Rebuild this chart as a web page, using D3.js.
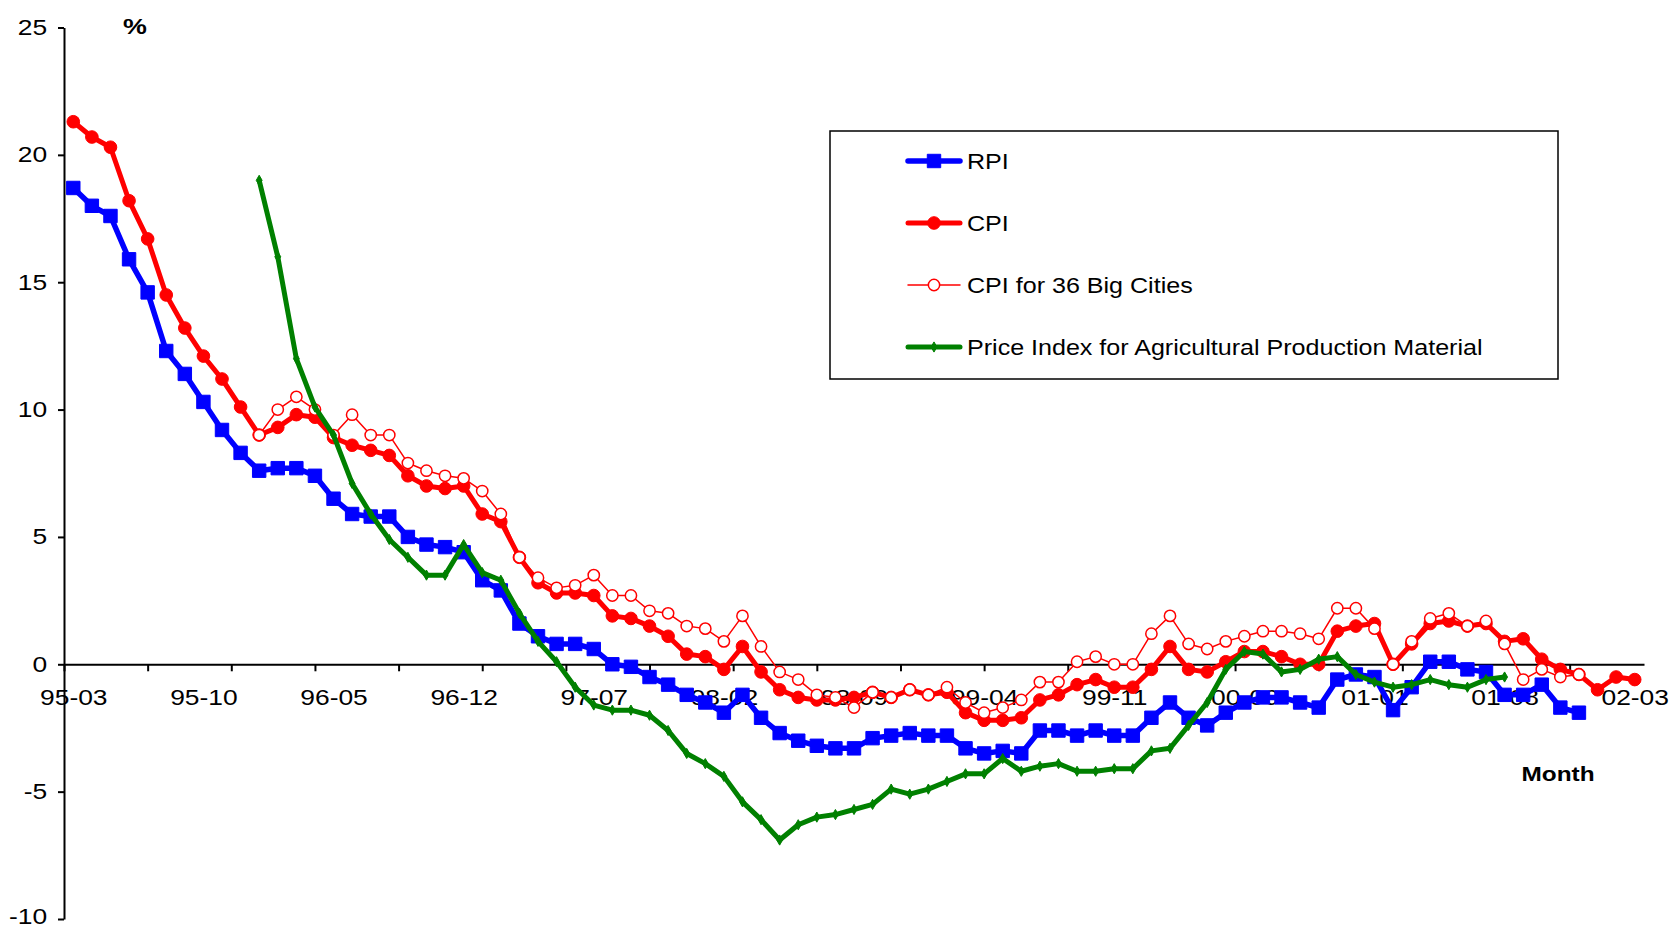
<!DOCTYPE html>
<html>
<head>
<meta charset="utf-8">
<script src="https://cdn.jsdelivr.net/npm/d3@7"></script>
<style>
  body { margin: 0; background: #fff; }
  text { font-family: Arial, "Liberation Sans", sans-serif; fill: #000; }
</style>
</head>
<body>
<div class="chart"></div>
<script>
// Categories: monthly, 95-03 .. 02-03
var months = [];
for (var m = 0; m < 85; m++) {
  var mm = (2 + m) % 12 + 1;
  var yy = 1995 + Math.floor((2 + m) / 12);
  months.push(String(yy).slice(2) + "-" + (mm < 10 ? "0" : "") + mm);
}

var tickLabels = ["95-03", "95-10", "96-05", "96-12", "97-07", "98-02", "98-09",
  "99-04", "99-11", "00-06", "01-01", "01-08", "02-03"];
var yTicks = [25, 20, 15, 10, 5, 0, -5, -10];

// values, % year on year
var rpi = [18.7, 18.0, 17.6, 15.9, 14.6, 12.3, 11.4, 10.3, 9.2, 8.3,
  7.6, 7.7, 7.7, 7.4, 6.5, 5.9, 5.8, 5.8, 5.0, 4.7,
  4.6, 4.4, 3.3, 2.9, 1.6, 1.1, 0.8, 0.8, 0.6, 0.0,
  -0.1, -0.5, -0.8, -1.2, -1.5, -1.9, -1.2, -2.1, -2.7, -3.0,
  -3.2, -3.3, -3.3, -2.9, -2.8, -2.7, -2.8, -2.8, -3.3, -3.5,
  -3.4, -3.5, -2.6, -2.6, -2.8, -2.6, -2.8, -2.8, -2.1, -1.5,
  -2.1, -2.4, -1.9, -1.5, -1.3, -1.3, -1.5, -1.7, -0.6, -0.4,
  -0.5, -1.8, -0.9, 0.1, 0.1, -0.2, -0.3, -1.2, -1.2, -0.8,
  -1.7, -1.9, null, null, null];

var cpi = [21.3, 20.7, 20.3, 18.2, 16.7, 14.5, 13.2, 12.1, 11.2, 10.1,
  9.0, 9.3, 9.8, 9.7, 8.9, 8.6, 8.4, 8.2, 7.4, 7.0,
  6.9, 7.0, 5.9, 5.6, 4.2, 3.2, 2.8, 2.8, 2.7, 1.9,
  1.8, 1.5, 1.1, 0.4, 0.3, -0.2, 0.7, -0.3, -1.0, -1.3,
  -1.4, -1.4, -1.3, -1.1, -1.3, -1.0, -1.2, -1.1, -1.9, -2.2,
  -2.2, -2.1, -1.4, -1.2, -0.8, -0.6, -0.9, -0.9, -0.2, 0.7,
  -0.2, -0.3, 0.1, 0.5, 0.5, 0.3, 0.0, 0.0, 1.3, 1.5,
  1.6, 0.0, 0.8, 1.6, 1.7, 1.5, 1.6, 0.9, 1.0, 0.2,
  -0.2, -0.4, -1.0, -0.5, -0.6];

var cpi36 = [null, null, null, null, null, null, null, null, null, null,
  9.0, 10.0, 10.5, 10.0, 9.0, 9.8, 9.0, 9.0, 7.9, 7.6,
  7.4, 7.3, 6.8, 5.9, 4.2, 3.4, 3.0, 3.1, 3.5, 2.7,
  2.7, 2.1, 2.0, 1.5, 1.4, 0.9, 1.9, 0.7, -0.3, -0.6,
  -1.2, -1.3, -1.7, -1.1, -1.3, -1.0, -1.2, -0.9, -1.5, -1.9,
  -1.7, -1.4, -0.7, -0.7, 0.1, 0.3, 0.0, 0.0, 1.2, 1.9,
  0.8, 0.6, 0.9, 1.1, 1.3, 1.3, 1.2, 1.0, 2.2, 2.2,
  1.4, 0.0, 0.9, 1.8, 2.0, 1.5, 1.7, 0.8, -0.6, -0.2,
  -0.5, -0.4, null, null, null];

var agri = [null, null, null, null, null, null, null, null, null, null,
  19.0, 16.0, 12.0, 10.1, 9.0, 7.1, 5.9, 4.9, 4.2, 3.5,
  3.5, 4.7, 3.6, 3.3, 2.0, 0.9, 0.1, -0.9, -1.6, -1.8,
  -1.8, -2.0, -2.6, -3.5, -3.9, -4.4, -5.4, -6.1, -6.9, -6.3,
  -6.0, -5.9, -5.7, -5.5, -4.9, -5.1, -4.9, -4.6, -4.3, -4.3,
  -3.7, -4.2, -4.0, -3.9, -4.2, -4.2, -4.1, -4.1, -3.4, -3.3,
  -2.4, -1.5, -0.2, 0.5, 0.4, -0.3, -0.2, 0.2, 0.3, -0.4,
  -0.7, -0.9, -0.8, -0.6, -0.8, -0.9, -0.6, -0.5, null, null,
  null, null, null, null, null];

var seriesNames = ["RPI", "CPI", "CPI for 36 Big Cities", "Price Index for Agricultural Production Material"];

// Step 0: set up the chart
var svgWidth = 1673;
var svgHeight = 928;
// the original picture is stretched sideways, so is its text
var stretch = 1.2;

var svg = d3.select(".chart")
  .append("svg")
  .attr("width", svgWidth)
  .attr("height", svgHeight);

var xScale = d3.scalePoint().domain(months).range([64, 1644]).padding(0.5);
var yScale = d3.scaleLinear().domain([-10, 25]).range([919, 27.5]);
var y0 = yScale(0);

// tick marks sit every 4.5 categories, independent from the labels
var tickScale = d3.scaleLinear().domain([0, months.length]).range(xScale.range());

// Y axis
var leftAxis = d3.axisLeft(yScale).tickValues(yTicks).tickSize(6).tickSizeOuter(0).tickPadding(8)
  .tickFormat(function(d) { return String(d); });
var gy = svg.append("g").attr("transform", "translate(64,0)").call(leftAxis);
gy.selectAll("text").style("font-size", "22px").attr("transform", "scale(" + stretch + ",1)");
// bottom label sits right on the picture's edge, lift it a hair
gy.selectAll("text").filter(function(d) { return d === -10; }).attr("dy", "0.2em");

// X axis (labels + line) at zero
var bottomAxis = d3.axisBottom(xScale).tickValues(tickLabels).tickSize(0).tickSizeOuter(0).tickPadding(25);
var gx = svg.append("g").attr("transform", "translate(0," + y0 + ")").call(bottomAxis);
gx.selectAll("text").style("font-size", "22px").attr("transform", "scale(" + stretch + ",1)");

var tickAxis = d3.axisBottom(tickScale).tickValues(d3.range(0, months.length, 4.5)).tickFormat("").tickSize(7);
svg.append("g").attr("transform", "translate(0," + y0 + ")").call(tickAxis)
  .select(".domain").remove();

svg.selectAll(".domain, .tick line").attr("stroke", "#000").attr("stroke-width", 2);

// axis titles
svg.append("text").attr("transform", "translate(135,34) scale(1.22,1)").attr("text-anchor", "middle")
  .style("font-size", "22px").style("font-weight", "bold").text("%");
svg.append("text").attr("transform", "translate(1558,781) scale(1.22,1)").attr("text-anchor", "middle")
  .style("font-size", "20px").style("font-weight", "bold").text("Month");

// Series
var series = [
  { name: seriesNames[0], values: rpi, color: "#0000ff", width: 5.5, symbol: d3.symbolSquare, size: 180, fill: "#0000ff" },
  { name: seriesNames[1], values: cpi, color: "#ff0000", width: 5, symbol: d3.symbolCircle, size: 125, fill: "#ff0000" },
  { name: seriesNames[2], values: cpi36, color: "#ff0000", width: 1.5, symbol: d3.symbolCircle, size: 100, fill: "#ffffff" },
  { name: seriesNames[3], values: agri, color: "#008000", width: 5, symbol: d3.symbolDiamond, size: 30, fill: "#008000" }
];

var line = d3.line()
  .defined(function(d) { return d.v !== null; })
  .x(function(d) { return xScale(d.m); })
  .y(function(d) { return yScale(d.v); });

series.forEach(function(s) {
  var pts = s.values.map(function(v, i) { return { m: months[i], v: v }; });
  var g = svg.append("g");
  g.append("path")
    .datum(pts)
    .attr("fill", "none")
    .attr("stroke", s.color)
    .attr("stroke-width", s.width)
    .attr("stroke-linejoin", "round")
    .attr("d", line);
  g.selectAll("path.mark")
    .data(pts.filter(function(d) { return d.v !== null; }))
    .enter()
    .append("path")
    .attr("class", "mark")
    .attr("transform", function(d) { return "translate(" + xScale(d.m) + "," + yScale(d.v) + ")"; })
    .attr("d", d3.symbol().type(s.symbol).size(s.size))
    .attr("fill", s.fill)
    .attr("stroke", s.color)
    .attr("stroke-width", s.width > 2 ? 1 : 1.5);
});

// Legend
var legend = svg.append("g");
legend.append("rect")
  .attr("x", 830).attr("y", 131).attr("width", 728).attr("height", 248)
  .attr("fill", "#fff").attr("stroke", "#000").attr("stroke-width", 1.5);

series.forEach(function(s, i) {
  var ly = 161 + i * 62;
  legend.append("line")
    .attr("x1", 908).attr("x2", 960).attr("y1", ly).attr("y2", ly)
    .attr("stroke", s.color).attr("stroke-width", s.width).attr("stroke-linecap", "round");
  legend.append("path")
    .attr("transform", "translate(934," + ly + ")")
    .attr("d", d3.symbol().type(s.symbol).size(s.size))
    .attr("fill", s.fill).attr("stroke", s.color).attr("stroke-width", s.width > 2 ? 1 : 1.5);
  legend.append("text")
    .attr("transform", "translate(967," + (ly + 8) + ") scale(1.14,1)")
    .style("font-size", "22px")
    .text(s.name);
});
</script>
</body>
</html>
